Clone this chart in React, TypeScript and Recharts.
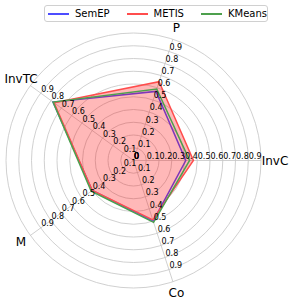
import { Legend, PolarAngleAxis, PolarGrid, PolarRadiusAxis, Radar, RadarChart } from 'recharts';

// clockwise from P, as Recharts lays categories out
const axes = ['P', 'InvC', 'Co', 'M', 'InvTC'];
const semep = [0.57, 0.41, 0.5, 0.4, 0.78];
const metis = [0.65, 0.47, 0.49, 0.4, 0.77];
const kmeans = [0.59, 0.44, 0.51, 0.41, 0.78];

const ringTicks = [0, 0.1, 0.2, 0.3, 0.4, 0.5, 0.6, 0.7, 0.8, 0.9, 1.0];
const labelAngles = [72, 0, -72, -144, -216];

const series = [
  { key: 'SemEP', color: 'rgb(77,77,255)', fill: false },
  { key: 'METIS', color: 'rgb(255,77,77)', fill: true },
  { key: 'KMeans', color: 'rgb(77,160,77)', fill: false },
];

const data = axes.map((a, i) => ({ axis: a, SemEP: semep[i], METIS: metis[i], KMeans: kmeans[i] }));

const CX = 133.5;
const CY = 160.5;
const R = 127.5;
const FONT = 'DejaVu Sans';

const AngleTick = (props: any) => {
  const ang = (props.payload.coordinate * Math.PI) / 180;
  const c = Math.cos(ang);
  // labels on the horizontal spoke sit a touch further out
  const r = R + 11.5 + 2.5 * Math.pow(Math.max(0, c), 4);
  return (
    <text
      x={CX + r * c}
      y={CY - r * Math.sin(ang)}
      textAnchor="middle"
      dominantBaseline="central"
      fontSize={12}
      fontFamily={FONT}
      fill="#000"
    >
      {props.payload.value}
    </text>
  );
};

// one tick value, drawn on every spoke
const RadiusTick = (props: any) => {
  const v = props.payload.value;
  if (v >= 1) return <g />;
  const rr = typeof props.payload.coordinate === 'number' ? props.payload.coordinate : props.x - CX;
  return (
    <g>
      {labelAngles.map((a) => {
        const t = (a * Math.PI) / 180;
        return (
          <text
            key={a}
            x={CX + rr * Math.cos(t) + 0.5}
            y={CY - rr * Math.sin(t) - 1.5}
            textAnchor="start"
            fontSize={8}
            fontFamily={FONT}
            fill="#000"
          >
            {String(v)}
          </text>
        );
      })}
    </g>
  );
};

const LegendBox = () => (
  <div
    style={{
      position: 'absolute',
      left: 44,
      top: 5,
      width: 224,
      height: 17,
      boxSizing: 'border-box',
      border: '1px solid #d0d0d0',
      borderRadius: 3,
      background: '#fff',
      display: 'flex',
      alignItems: 'center',
      paddingLeft: 3,
      gap: 17,
      fontFamily: FONT,
      fontSize: 10,
    }}
  >
    {series.map((s) => (
      <div key={s.key} style={{ display: 'flex', alignItems: 'center' }}>
        <div style={{ width: 21, height: 2, background: s.color, marginRight: 6 }} />
        <span style={{ color: '#000' }}>{s.key}</span>
      </div>
    ))}
  </div>
);

export default function App() {
  return (
    <div style={{ position: 'absolute', left: 0, top: 0, width: 291, height: 304, background: '#fff' }}>
      <RadarChart
        width={291}
        height={304}
        data={data}
        cx={CX}
        cy={CY}
        outerRadius={R}
        startAngle={72}
        endAngle={-288}
        margin={{ top: 0, right: 0, bottom: 0, left: 0 }}
      >
        <PolarGrid gridType="circle" stroke="#c4c4c4" strokeWidth={0.8} />
        <PolarAngleAxis dataKey="axis" tick={<AngleTick />} tickLine={false} axisLine={false} />
        <PolarRadiusAxis
          type="number"
          angle={0}
          domain={[0, 1]}
          ticks={ringTicks}
          tick={<RadiusTick />}
          tickLine={false}
          axisLine={false}
        />
        {series.map((s) => (
          <Radar
            key={s.key}
            name={s.key}
            dataKey={s.key}
            stroke={s.color}
            strokeWidth={1.5}
            fill="#ff0000"
            fillOpacity={s.fill ? 0.28 : 0}
            dot={false}
            isAnimationActive={false}
          />
        ))}
        <Legend content={() => <LegendBox />} wrapperStyle={{ top: 0, left: 0, width: 291 }} />
      </RadarChart>
    </div>
  );
}
